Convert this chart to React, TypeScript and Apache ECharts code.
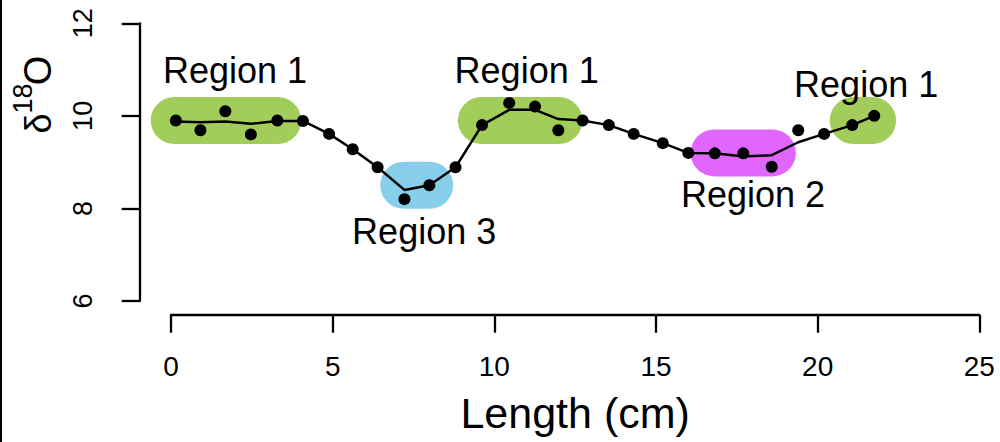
import React, { useEffect, useRef } from "react";
import * as echarts from "echarts";

const lengthCm = [0.15, 0.91, 1.68, 2.47, 3.29, 4.08, 4.89, 5.62, 6.39, 7.22, 7.99, 8.8, 9.62, 10.46, 11.26, 11.98, 12.73, 13.54, 14.31, 15.21, 16.0, 16.82, 17.7, 18.58, 19.4, 20.2, 21.07, 21.75];
const d18O = [9.9, 9.69, 10.1, 9.6, 9.9, 9.89, 9.61, 9.28, 8.89, 8.2, 8.5, 8.89, 9.8, 10.28, 10.2, 9.69, 9.9, 9.8, 9.61, 9.41, 9.2, 9.19, 9.19, 8.9, 9.69, 9.61, 9.8, 10.0];
const smoothed = [9.88, 9.86, 9.88, 9.83, 9.89, 9.89, 9.61, 9.28, 8.89, 8.4, 8.5, 8.89, 9.8, 10.13, 10.13, 9.93, 9.9, 9.8, 9.61, 9.41, 9.2, 9.19, 9.12, 9.15, 9.43, 9.61, 9.8, 10.0];

const regionNames = ["Region 1", "Region 3", "Region 1", "Region 2", "Region 1"];
const regionStart = [0.1, 7.2, 9.6, 16.8, 21.1];
const regionEnd = [3.3, 8.0, 12.0, 18.6, 21.7];
const regionLevel = [9.9, 8.5, 9.9, 9.2, 9.9];
const regionColors = ["#A2CD5A", "#87CEEB", "#A2CD5A", "#E066FF", "#A2CD5A"];
const labelX = [1.98, 7.83, 11.0, 18.0, 21.5];
const labelY = [10.97, 7.51, 10.97, 8.31, 10.67];

const xTicks = { min: 0, max: 25, interval: 5 };
const yTicks = { min: 6, max: 12, interval: 2 };

const FONT = "'Liberation Sans', Arial, Helvetica, sans-serif";

export default function App() {
  const ref = useRef<HTMLDivElement>(null);
  useEffect(() => {
    if (!ref.current) return;
    const chart = echarts.init(ref.current, null, { renderer: "svg" });
    const regionSeries = regionNames.map((n, i) => ({
      type: "line",
      name: n + "_band" + i,
      data: [
        [regionStart[i], regionLevel[i]],
        [regionEnd[i], regionLevel[i]],
      ],
      symbol: "none",
      silent: true,
      z: 1,
      lineStyle: { color: regionColors[i], width: 47, cap: "round", opacity: 1 },
    }));
    const option = {
      animation: false,
      backgroundColor: "#ffffff",
      grid: { left: 171, right: 20.7, top: 23.3, bottom: 141, containLabel: false, outerBoundsMode: "none" },
      xAxis: {
        type: "value",
        min: xTicks.min,
        max: xTicks.max,
        interval: xTicks.interval,
        offset: 14,
        axisLine: { show: true, onZero: false, lineStyle: { color: "#000", width: 2.3 } },
        axisTick: { show: true, length: 17.7, lineStyle: { color: "#000", width: 2.3 } },
        axisLabel: { fontSize: 28, color: "#000", margin: 37, fontFamily: FONT },
        splitLine: { show: false },
        name: "Length (cm)",
        nameLocation: "middle",
        nameGap: 76,
        nameTextStyle: { fontSize: 43, color: "#000", fontFamily: FONT },
      },
      yAxis: {
        type: "value",
        min: yTicks.min,
        max: yTicks.max,
        interval: yTicks.interval,
        offset: 31.7,
        axisLine: { show: true, onZero: false, lineStyle: { color: "#000", width: 2.3 } },
        axisTick: { show: true, length: 17.6, lineStyle: { color: "#000", width: 2.3 } },
        axisLabel: { fontSize: 27, color: "#000", margin: 43, rotate: 90, fontFamily: FONT },
        splitLine: { show: false },
      },
      graphic: [
        { type: "rect", shape: { x: 0, y: 0, width: 2, height: 442 }, style: { fill: "#000" } },
        {
          type: "text",
          x: 38,
          y: 123.5,
          rotation: Math.PI / 2,
          style: { text: "δ", fontSize: 36, fontFamily: FONT, fill: "#000", align: "center", verticalAlign: "middle" },
        },
        {
          type: "text",
          x: 22.5,
          y: 98.5,
          rotation: Math.PI / 2,
          style: { text: "18", fontSize: 27, fontFamily: FONT, fill: "#000", align: "center", verticalAlign: "middle" },
        },
        {
          type: "text",
          x: 37.5,
          y: 70.5,
          rotation: Math.PI / 2,
          style: { text: "O", fontSize: 38, fontFamily: FONT, fill: "#000", align: "center", verticalAlign: "middle" },
        },
      ],
      series: [
        ...regionSeries,
        {
          type: "line",
          name: "smoothed",
          data: lengthCm.map((x, i) => [x, smoothed[i]]),
          symbol: "none",
          z: 3,
          lineStyle: { color: "#000", width: 2.5, opacity: 1 },
        },
        {
          type: "scatter",
          name: "d18O",
          data: lengthCm.map((x, i) => [x, d18O[i]]),
          symbol: "circle",
          symbolSize: 12,
          z: 4,
          itemStyle: { color: "#000", opacity: 1 },
        },
        {
          type: "scatter",
          name: "labels",
          data: labelX.map((x, i) => [x, labelY[i], regionNames[i]]),
          symbolSize: 0,
          silent: true,
          z: 5,
          itemStyle: { opacity: 1 },
          label: {
            show: true,
            position: "inside",
            formatter: (p: any) => p.data[2],
            fontSize: 36,
            color: "#000",
            opacity: 1,
            fontFamily: FONT,
            align: "center",
            verticalAlign: "middle",
          },
        },
      ],
    };
    chart.setOption(option as any);
    return () => chart.dispose();
  }, []);
  return (
    <div
      ref={ref}
      style={{ position: "fixed", left: 0, top: 0, width: 1000, height: 442 }}
    />
  );
}
